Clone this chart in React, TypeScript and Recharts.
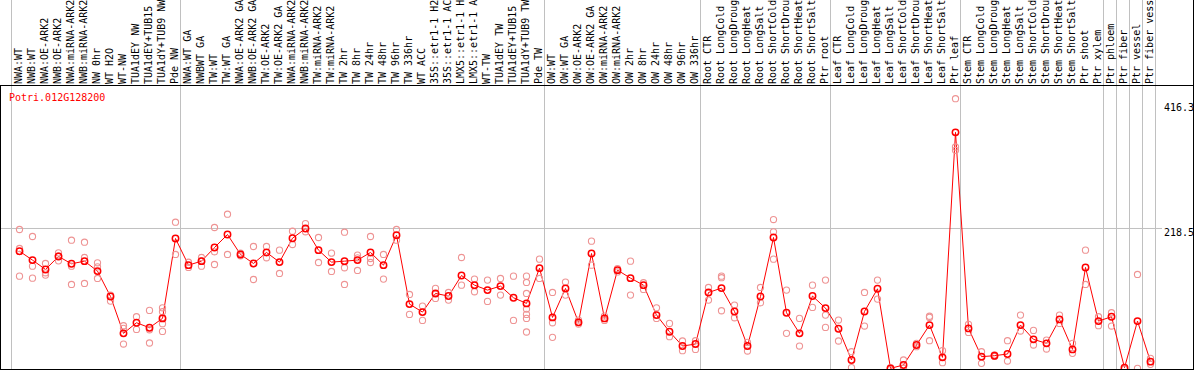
import { ComposedChart, Line, Scatter, XAxis, YAxis, ReferenceLine } from 'recharts';

const categories = [
  'NWA:WT', 'NWB:WT', 'NWA:OE-ARK2', 'NWB:OE-ARK2', 'NWA:miRNA-ARK2', 'NWB:miRNA-ARK2',
  'NW 0hr', 'WT H2O', 'WT-NW', 'TUA1dEY NW', 'TUA1dEY+TUB15', 'TUA1dY+TUB9 NW', 'Pde NW',
  'NWA:WT GA', 'NWBWT GA', 'TW:WT', 'TW:WT GA', 'NWA:OE-ARK2 GA', 'NWB:OE-ARK2 GA',
  'TW:OE-ARK2', 'TW:OE-ARK2 GA', 'NWA:miRNA-ARK2', 'NWB:miRNA-ARK2', 'TW:miRNA-ARK2',
  'TW:miRNA-ARK2', 'TW 2hr', 'TW 8hr', 'TW 24hr', 'TW 48hr', 'TW 96hr', 'TW 336hr', 'WT ACC',
  '35S::etr1-1 H2', '35S::etr1-1 AC', 'LMX5::etr1-1 H', 'LMX5::etr1-1 A', 'WT-TW',
  'TUA1dEY TW', 'TUA1dEY+TUB15', 'TUA1dY+TUB9 TW', 'Pde TW',
  'OW:WT', 'OW:WT GA', 'OW:OE-ARK2', 'OW:OE-ARK2 GA', 'OW:miRNA-ARK2', 'OW:miRNA-ARK2',
  'OW 2hr', 'OW 8hr', 'OW 24hr', 'OW 48hr', 'OW 96hr', 'OW 336hr',
  'Root CTR', 'Root LongCold', 'Root LongDroug', 'Root LongHeat', 'Root LongSalt',
  'Root ShortCold', 'Root ShortDrou', 'Root ShortHeat', 'Root ShortSalt', 'Ptr root',
  'Leaf CTR', 'Leaf LongCold', 'Leaf LongDroug', 'Leaf LongHeat', 'Leaf LongSalt',
  'Leaf ShortCold', 'Leaf ShortDrou', 'Leaf ShortHeat', 'Leaf ShortSalt', 'Ptr leaf',
  'Stem CTR', 'Stem LongCold', 'Stem LongDroug', 'Stem LongHeat', 'Stem LongSalt',
  'Stem ShortCold', 'Stem ShortDrou', 'Stem ShortHeat', 'Stem ShortSalt', 'Ptr shoot',
  'Ptr xylem', 'Ptr phloem', 'Ptr fiber', 'Ptr vessel', 'Ptr fiber vess',
];

// mean expression per sample
const means = [
  183.2, 169.3, 154.8, 175.0, 163.6, 167.7, 152.2, 112.8, 55.4, 71.9, 64.2, 78.7, 202.9,
  161.5, 167.7, 188.9, 209.1, 178.1, 164.1, 181.2, 166.2, 203.4, 218.4, 184.8, 166.2, 167.7,
  169.3, 181.2, 161.5, 208.1, 100.9, 88.5, 117.5, 113.4, 145.4, 130.4, 122.7, 128.9, 110.8,
  102.0, 156.8, 80.2, 125.3, 72.5, 179.6, 78.7, 153.7, 141.3, 130.4, 83.8, 58.0, 35.7, 38.8,
  119.0, 125.8, 89.5, 35.7, 112.8, 204.5, 87.5, 55.4, 113.4, 94.7, 62.6, 14.0, 89.5, 124.7,
  1.0, 6.2, 37.3, 68.3, 18.1, 368.0, 63.1, 19.2, 20.7, 23.3, 68.3, 46.1, 39.9, 77.1, 30.5,
  157.9, 74.5, 81.3, 2.1, 74.5, 11.4,
];

// individual replicates per sample
const replicates = [
  [216.9, 187.4, 144.4], [206.0, 159.9, 141.3], [164.1, 149.6, 146.0], [180.6, 168.2, 176.0],
  [200.3, 159.9, 131.5], [197.2, 173.4, 133.0], [165.1, 158.9, 140.8], [114.9, 105.6],
  [67.3, 63.1, 38.8], [81.3, 61.6], [91.1, 61.0, 40.4], [95.2, 89.0, 80.0, 70.4, 58.5],
  [228.3, 178.1], [166.0, 158.0], [173.4, 159.9, 168.0], [220.0, 182.2, 162.5],
  [240.7, 178.1], [180.0, 176.0], [190.5, 164.0, 139.2], [190.5, 172.9], [184.8, 148.6],
  [214.3, 193.6], [226.2, 213.3], [204.5, 165.6], [180.1, 151.7], [212.7, 157.4, 131.5],
  [177.0, 172.9, 153.2], [206.0, 171.8, 165.6], [178.1, 139.8], [216.9, 200.3],
  [115.9, 84.9], [97.8, 75.6], [125.3, 109.7], [119.0, 107.1], [173.4, 130.4],
  [139.8, 120.1], [138.2, 105.1], [140.8, 114.9], [144.4, 75.6],
  [144.4, 134.6, 117.5, 93.2, 84.9, 78.7, 57.5], [170.8, 140.8], [119.0, 71.9, 49.2],
  [135.1, 114.9], [76.1, 70.0], [198.8, 161.5], [82.3, 75.6], [156.0, 151.0],
  [167.7, 114.9], [134.1, 123.7], [95.2, 78.7], [70.9, 50.2], [43.5, 28.5], [44.0, 30.5],
  [126.8, 107.1], [144.4, 142.0, 90.6], [99.4, 79.7], [41.4, 28.0], [126.8, 103.0],
  [232.4, 213.3, 170.8], [122.7, 55.4], [78.7, 35.7], [130.4, 95.8], [138.2, 83.8, 64.7],
  [76.1, 43.5], [26.9, 2.1], [119.0, 66.8], [138.2, 108.7], [2.0, 0.0], [14.0, 1.0],
  [39.9, 34.7], [82.0, 80.2, 44.0], [28.5, 9.8], [420.3, 345.2, 340.1], [69.4, 56.9],
  [26.9, 8.8], [22.0, 19.5], [44.0, 12.4], [83.8, 59.0], [60.0, 37.3], [45.0, 31.1],
  [83.8, 70.9], [39.9, 24.3], [184.8, 131.5], [81.3, 67.3], [87.5, 66.8], [0.5, 0.0],
  [147.0, 1.0], [16.6, 7.2],
];

const yTicks = [0, 218.5, 416.3];
const title = 'Potri.012G128200';

// index of the first sample in each group (88 = end)
const groupStarts = [0, 13, 41, 53, 63, 73, 84, 85, 86, 87, 88];

const MONO = '"DejaVu Sans Mono", "Liberation Mono", monospace';
const STEP = 13;
const PLOT_LEFT = 11.5;
const PLOT_TOP = 85;
const PLOT_BOTTOM = 369;
const Y_MAX = 441.6;
const X_MIN = -8 / 13;
const X_MAX = categories.length - 8 / 13;

const pxToIdx = (px: number) => X_MIN + (px - PLOT_LEFT) / STEP;
const pyToVal = (py: number) => ((PLOT_BOTTOM - py) * Y_MAX) / (PLOT_BOTTOM - PLOT_TOP);

const meanRows = categories.map((name, i) => ({ idx: i, name, mean: means[i] }));
const repRows = replicates.flatMap((vals, i) => vals.map((v) => ({ idx: i, value: v })));

const CategoryTick = ({ x, payload }: any) => {
  const bx = x + 2.4;
  const by = 84;
  return (
    <text x={bx} y={by} transform={`rotate(-90 ${bx} ${by})`} fontSize={10} fontFamily={MONO} fill="#000">
      {categories[payload.value]}
    </text>
  );
};

const tickNudge: Record<string, number> = { '0': -4, '218.5': 7.2, '416.3': 9.7 };

const ValueTick = ({ y, payload }: any) => (
  <text x={1164} y={y + (tickNudge[String(payload.value)] ?? 0)} fontSize={10} fontFamily={MONO} fill="#000">
    {payload.value}
  </text>
);

const RepDot = (props: any) => (
  <circle cx={props.cx} cy={props.cy} r={3.1} fill="none" stroke="#ee9494" strokeWidth={1.1} />
);

export default function App() {
  return (
    <div style={{ position: 'absolute', left: 0, top: 0, width: 1194, height: 370, background: '#fff' }}>
      <ComposedChart width={1194} height={370} data={meanRows} margin={{ top: 0, right: 0, bottom: 1, left: PLOT_LEFT }}>
        <XAxis
          dataKey="idx"
          type="number"
          orientation="top"
          domain={[X_MIN, X_MAX]}
          allowDataOverflow
          ticks={categories.map((_, i) => i)}
          interval={0}
          height={85}
          axisLine={false}
          tickLine={false}
          tick={<CategoryTick />}
        />
        <YAxis
          orientation="right"
          type="number"
          domain={[0, Y_MAX]}
          allowDataOverflow
          ticks={yTicks}
          width={38.5}
          axisLine={false}
          tickLine={false}
          tick={<ValueTick />}
        />
        {groupStarts.map((g) => (
          <ReferenceLine
            key={g}
            segment={[{ x: g - 8 / 13, y: 0 }, { x: g - 8 / 13, y: pyToVal(0) }]}
            stroke="#c0c0c0"
            strokeWidth={1}
            ifOverflow="visible"
          />
        ))}
        <ReferenceLine
          segment={[{ x: pxToIdx(1), y: 218.5 }, { x: pxToIdx(1162), y: 218.5 }]}
          stroke="#c0c0c0"
          strokeWidth={1}
          ifOverflow="visible"
        />
        <Scatter data={repRows} dataKey="value" shape={RepDot} isAnimationActive={false} />
        <Line
          type="linear"
          dataKey="mean"
          stroke="#ff0000"
          strokeWidth={1}
          dot={{ r: 3.2, stroke: '#ff0000', strokeWidth: 1.5, fill: 'none' }}
          activeDot={false}
          isAnimationActive={false}
        />
      </ComposedChart>
      <div style={{ position: 'absolute', left: 0, top: 85, width: 1194, height: 285, border: '1px solid #000', boxSizing: 'border-box', pointerEvents: 'none' }} />
      <div style={{ position: 'absolute', left: 1193, top: 0, width: 1, height: 85, background: '#000' }} />
      <svg style={{ position: 'absolute', left: 0, top: 85, pointerEvents: 'none' }} width={200} height={20}>
        <text x={9} y={16} fontSize={10} fontFamily={MONO} fill="#ff0000">{title}</text>
      </svg>
    </div>
  );
}
